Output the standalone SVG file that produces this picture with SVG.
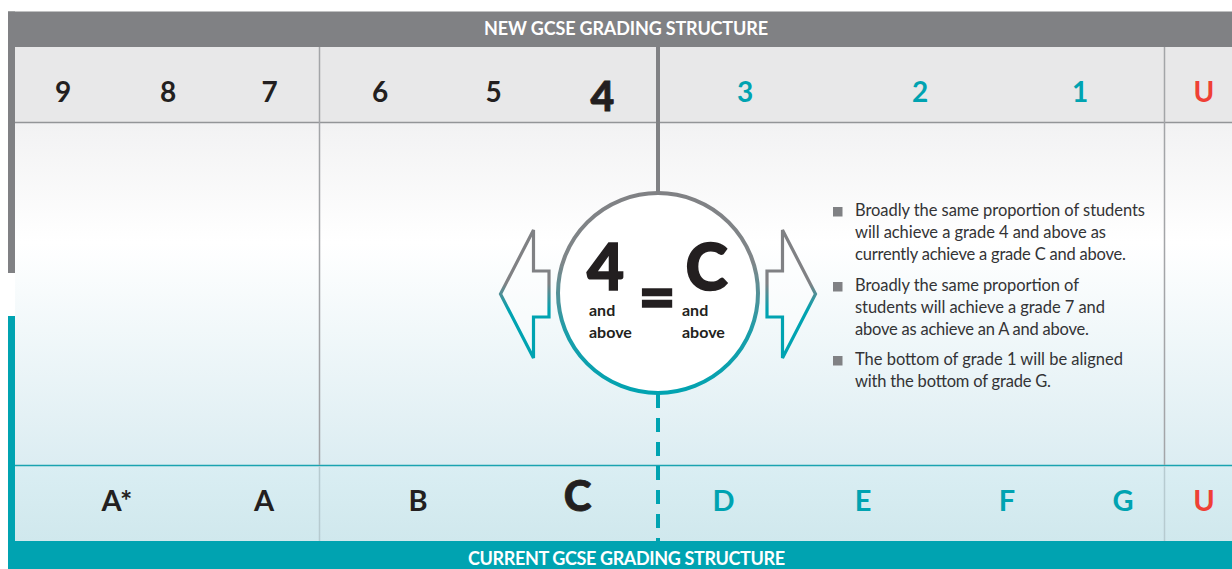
<svg xmlns="http://www.w3.org/2000/svg" width="1232" height="569" viewBox="0 0 1232 569">
<defs>
<linearGradient id="bodyGrad" x1="0" y1="123" x2="0" y2="465" gradientUnits="userSpaceOnUse">
<stop offset="0" stop-color="#f2f2f3"/>
<stop offset="0.35" stop-color="#ffffff"/>
<stop offset="1" stop-color="#dcedf2"/>
</linearGradient>
<linearGradient id="lowGrad" x1="0" y1="465" x2="0" y2="541" gradientUnits="userSpaceOnUse">
<stop offset="0" stop-color="#daeef3"/>
<stop offset="1" stop-color="#d0e8ed"/>
</linearGradient>
<linearGradient id="ringGrad" x1="0" y1="192" x2="0" y2="394" gradientUnits="userSpaceOnUse">
<stop offset="0" stop-color="#808184"/>
<stop offset="0.35" stop-color="#7f8689"/>
<stop offset="0.7" stop-color="#1a9eaa"/>
<stop offset="1" stop-color="#00a3b1"/>
</linearGradient>
<linearGradient id="arrowGrad" x1="0" y1="229" x2="0" y2="359" gradientUnits="userSpaceOnUse">
<stop offset="0" stop-color="#808184"/>
<stop offset="0.42" stop-color="#808184"/>
<stop offset="0.62" stop-color="#00a3b1"/>
<stop offset="1" stop-color="#00a3b1"/>
</linearGradient>
</defs>
<style>
.hdr{font-family:Lato,"Open Sans",sans-serif;font-weight:bold;font-size:18px;fill:#ffffff;text-anchor:middle}
.g{font-family:Lato,"Open Sans",sans-serif;font-weight:bold;text-anchor:middle}
.dk{fill:#231f20}
.tl{fill:#00a3b1}
.rd{fill:#ef4035}
.n{font-size:28px}
.l{font-size:29px}
.hv{font-weight:900;stroke:#231f20;stroke-width:0.8}
.small{font-family:Lato,"Open Sans",sans-serif;font-weight:bold;font-size:16px;fill:#231f20}
.big{font-family:Lato,"Open Sans",sans-serif;font-weight:900;font-size:64px;fill:#231f20;text-anchor:middle;stroke:#231f20;stroke-width:1.6}
.b{font-family:Lato,"Open Sans",sans-serif;font-size:16.5px;fill:#333335}
.sq{fill:#808184}
.vl{stroke:#a3a5a8;stroke-width:1.5}
.vll{stroke:#b7cbd0;stroke-width:1.5}
</style>

<g id="background">
<rect x="8" y="11.5" width="1224" height="35.5" fill="#808184"/>
<rect x="15" y="47" width="1217" height="75.5" fill="#e8e8e9"/>
<rect x="15" y="123" width="1217" height="342" fill="url(#bodyGrad)"/>
<rect x="15" y="465" width="1217" height="76" fill="url(#lowGrad)"/>
<rect x="8" y="541" width="1224" height="28" fill="#00a3b1"/>
<rect x="8" y="11.5" width="7" height="261.5" fill="#808184"/>
<rect x="8" y="316" width="7" height="253" fill="#00a3b1"/>
<line x1="15" y1="122.5" x2="1232" y2="122.5" stroke="#939598" stroke-width="1.5"/>
<line x1="15" y1="465.5" x2="1232" y2="465.5" stroke="#1aa3b0" stroke-width="1.5"/>
<line class="vl" x1="319.5" y1="47" x2="319.5" y2="465"/>
<line class="vl" x1="1164.5" y1="47" x2="1164.5" y2="465"/>
<line class="vll" x1="319.5" y1="466" x2="319.5" y2="541"/>
<line class="vll" x1="1164.5" y1="466" x2="1164.5" y2="541"/>
</g>

<g id="headers">
<text class="hdr" x="626" y="35" textLength="284">NEW GCSE GRADING STRUCTURE</text>
<text class="hdr" x="626.5" y="565" textLength="317">CURRENT GCSE GRADING STRUCTURE</text>
</g>

<g id="new-grades">
<text class="g dk n" x="63" y="101.5">9</text>
<text class="g dk n" x="168" y="101.5">8</text>
<text class="g dk n" x="269.5" y="101.5">7</text>
<text class="g dk n" x="380" y="101.5">6</text>
<text class="g dk n" x="493.5" y="101.5">5</text>
<text class="g dk hv" x="602.5" y="111" font-size="41">4</text>
<text class="g tl n" x="745" y="101.5">3</text>
<text class="g tl n" x="920" y="101.5">2</text>
<text class="g tl n" x="1080" y="101.5">1</text>
<text class="g rd n" x="1204" y="101.5">U</text>
</g>

<g id="current-grades">
<text class="g dk l" x="117" y="511">A*</text>
<text class="g dk l" x="264" y="511">A</text>
<text class="g dk l" x="418" y="511">B</text>
<text class="g dk hv" x="577.5" y="511" font-size="42">C</text>
<text class="g tl l" x="723.5" y="511">D</text>
<text class="g tl l" x="863" y="511">E</text>
<text class="g tl l" x="1007" y="511">F</text>
<text class="g tl l" x="1123" y="511">G</text>
<text class="g rd l" x="1204" y="511">U</text>
</g>

<g id="connectors" fill="none">
<line x1="658" y1="47" x2="658" y2="194" stroke="#808184" stroke-width="4"/>
<line x1="658" y1="394" x2="658" y2="541" stroke="#00a3b1" stroke-width="4" stroke-dasharray="14 10"/>
<path d="M549,271 H533.5 V230 L500.5,294 L533.5,358 V317 H549 Z" fill="#ffffff" fill-opacity="0.4" stroke="url(#arrowGrad)" stroke-width="3.2" stroke-linejoin="miter"/>
<path d="M767,271 H782.5 V230 L815.5,294 L782.5,358 V317 H767 Z" fill="#ffffff" fill-opacity="0.4" stroke="url(#arrowGrad)" stroke-width="3.2" stroke-linejoin="miter"/>
</g>

<g id="equivalence-node">
<circle cx="658" cy="293" r="100" fill="#ffffff" stroke="url(#ringGrad)" stroke-width="4"/>
<text class="big" x="605.5" y="290">4</text>
<text class="big" x="657" y="320" font-size="78" stroke-width="2.4">=</text>
<text class="big" x="706.5" y="290">C</text>
<text class="small" x="589" y="316">and</text>
<text class="small" x="589" y="338">above</text>
<text class="small" x="682" y="316">and</text>
<text class="small" x="682" y="338">above</text>
</g>

<g id="notes">
<rect class="sq" x="833" y="207" width="9.5" height="9.5"/>
<text class="b" x="855" y="216" textLength="290">Broadly the same proportion of students</text>
<text class="b" x="855" y="238" textLength="251">will achieve a grade 4 and above as</text>
<text class="b" x="855" y="260" textLength="271">currently achieve a grade C and above.</text>
<rect class="sq" x="833" y="282" width="9.5" height="9.5"/>
<text class="b" x="855" y="291" textLength="224">Broadly the same proportion of</text>
<text class="b" x="855" y="313" textLength="250">students will achieve a grade 7 and</text>
<text class="b" x="855" y="335" textLength="234">above as achieve an A and above.</text>
<rect class="sq" x="833" y="356" width="9.5" height="9.5"/>
<text class="b" x="855" y="365" textLength="268">The bottom of grade 1 will be aligned</text>
<text class="b" x="855" y="387" textLength="196">with the bottom of grade G.</text>
</g>
</svg>
